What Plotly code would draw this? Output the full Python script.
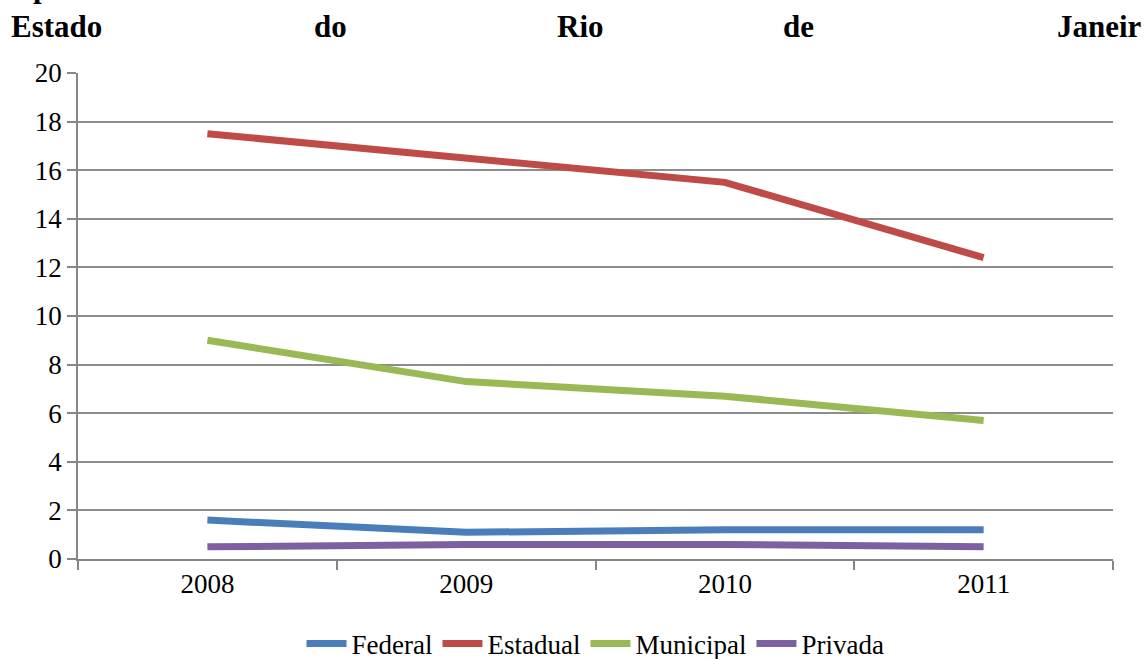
import plotly.graph_objects as go

anos = ["2008", "2009", "2010", "2011"]
federal = [1.6, 1.1, 1.2, 1.2]
estadual = [17.5, 16.5, 15.5, 12.4]
municipal = [9.0, 7.3, 6.7, 5.7]
privada = [0.5, 0.6, 0.6, 0.5]
y_ticks = [0, 2, 4, 6, 8, 10, 12, 14, 16, 18, 20]

series = [
    ("Federal", federal, "#4A7EBB"),
    ("Estadual", estadual, "#BE4B48"),
    ("Municipal", municipal, "#98B954"),
    ("Privada", privada, "#7D60A0"),
]

FONT = "Liberation Serif"


def serif(txt):
    return f"<span style='font-family:{FONT}'>{txt}</span>"


fig = go.Figure()
for nome, vals, cor in series:
    fig.add_trace(go.Scatter(
        x=anos, y=vals, name=serif(nome), mode="lines",
        line=dict(color=cor, width=7),
    ))

fig.update_layout(
    width=1146, height=659,
    margin=dict(l=78, r=33, t=73, b=100, autoexpand=False),
    paper_bgcolor="white", plot_bgcolor="white",
    font=dict(family=FONT, color="black", size=27),
    showlegend=True,
    legend=dict(
        orientation="h", x=0.5, xanchor="center",
        yref="container", y=15 / 659, yanchor="middle",
        font=dict(family=FONT, size=27), itemwidth=40, tracegroupgap=0,
    ),
    xaxis=dict(
        type="category", range=[-0.5, 3.5], tickson="boundaries",
        ticks="outside", ticklen=9, tickcolor="#868686", tickwidth=1.5,
        showline=True, linecolor="#868686", linewidth=1.5,
        showgrid=False, tickfont=dict(family=FONT, size=27),
    ),
    yaxis=dict(
        range=[0, 20], tickmode="array", tickvals=y_ticks,
        ticktext=[serif(v) for v in y_ticks],
        ticks="outside", ticklen=9,
        tickcolor="#868686", tickwidth=1.5,
        showline=True, linecolor="#868686", linewidth=1.5,
        showgrid=True, gridcolor="#8C8C8C", gridwidth=1.5,
        zeroline=False, tickfont=dict(family=FONT, size=27),
    ),
)

# Heading: first line partly above the page, second line justified
fig.add_annotation(
    text="dependência administrativa", xref="paper", yref="paper",
    x=-78 / 1035, y=1, xanchor="left", yanchor="bottom", yshift=67,
    showarrow=False, font=dict(family=FONT, size=31, weight="bold"),
)
palavras = [("Estado", 9), ("do", 312), ("Rio", 555), ("de", 781), ("Janeir", 1055)]
for palavra, px in palavras:
    fig.add_annotation(
        text=palavra, xref="paper", yref="paper",
        x=(px - 78) / 1035, y=1, xanchor="left", yanchor="bottom", yshift=27,
        showarrow=False, font=dict(family=FONT, size=31, weight="bold"),
    )

fig.write_html("out.html")
